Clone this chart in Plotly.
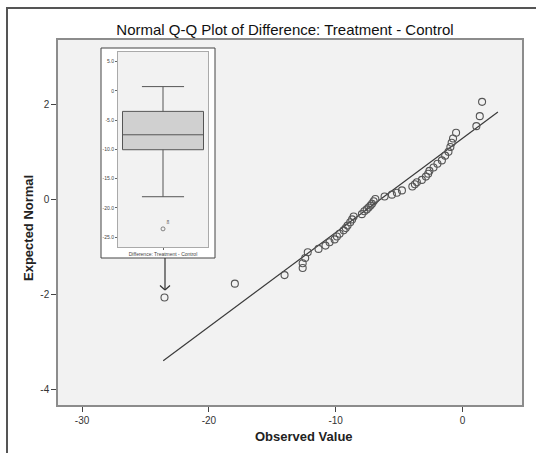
import plotly.graph_objects as go

# ---- data ----
observed = [-23.5, -17.95, -14.03, -12.6, -12.6, -12.4, -12.2, -11.35, -10.8, -10.48,
            -10.08, -9.9, -9.69, -9.37, -9.2, -9.06, -8.85, -8.7, -8.58, -7.93,
            -7.74, -7.55, -7.4, -7.25, -7.13, -7.0, -6.87, -6.14, -5.56, -5.17,
            -4.77, -3.95, -3.75, -3.59, -3.2, -2.88, -2.7, -2.6, -2.28, -1.97,
            -1.62, -1.36, -1.1, -0.95, -0.85, -0.74, -0.5, 1.1, 1.37, 1.55]
expected = [-2.06, -1.77, -1.59, -1.44, -1.34, -1.23, -1.11, -1.04, -0.97, -0.90,
            -0.84, -0.78, -0.72, -0.65, -0.60, -0.55, -0.48, -0.42, -0.36, -0.31,
            -0.25, -0.21, -0.17, -0.13, -0.09, -0.04, 0.01, 0.06, 0.10, 0.14,
            0.19, 0.27, 0.32, 0.36, 0.41, 0.48, 0.54, 0.60, 0.67, 0.75,
            0.82, 0.92, 1.00, 1.10, 1.19, 1.28, 1.40, 1.54, 1.75, 2.05]

line_mean = -6.48
line_sd = 5.05
line_x = [-23.6, 2.8]

x_ticks = [-30, -20, -10, 0]
x_ticklabels = ["-30", "-20", "-10", "0"]
y_ticks = [-4, -2, 0, 2]
y_ticklabels = ["-4", "-2", "0", "2"]

# inset boxplot summary
box_q1, box_median, box_q3 = -10.06, -7.5, -3.5
box_lower, box_upper = -18.1, 0.74
box_outlier = [-23.6]
box_outlier_label = "8"
inset_ticks = [5, 0, -5, -10, -15, -20, -25]
inset_ticklabels = ["5.0", "0", "-5.0", "-10.0", "-15.0", "-20.0", "-25.0"]
inset_category = "Difference: Treatment - Control"

title = "Normal Q-Q Plot of Difference: Treatment - Control"
x_title = "Observed Value"
y_title = "Expected Normal"

W, H = 536, 453
L, R, T, B = 58, 14, 40, 48
pw, ph = W - L - R, H - T - B

def px(x):
    return (x - L) / pw

def py(y):
    return (H - B - y) / ph

fig = go.Figure()

fig.add_trace(go.Scatter(
    x=line_x, y=[(v - line_mean) / line_sd for v in line_x],
    mode="lines", line=dict(color="#3a3a3a", width=1.2),
    showlegend=False, hoverinfo="skip"))

fig.add_trace(go.Scatter(
    x=observed, y=expected, mode="markers",
    marker=dict(symbol="circle-open", size=7, color="#555555", line=dict(width=1.1)),
    showlegend=False))

# inset box
fig.add_trace(go.Box(
    x=[inset_category], q1=[box_q1], median=[box_median], q3=[box_q3],
    lowerfence=[box_lower], upperfence=[box_upper],
    xaxis="x2", yaxis="y2", boxpoints=False,
    fillcolor="#d0d0d0", line=dict(color="#555555", width=1),
    width=0.68, whiskerwidth=0.52, showlegend=False))

fig.add_trace(go.Scatter(
    x=[inset_category] * len(box_outlier), y=box_outlier, mode="markers+text",
    text=[box_outlier_label], textposition="top right",
    textfont=dict(size=5, color="#555555"),
    marker=dict(symbol="circle-open", size=4, color="#666666", line=dict(width=0.8)),
    xaxis="x2", yaxis="y2", showlegend=False))

axis_common = dict(showgrid=False, zeroline=False, showline=True, mirror=True,
                   linecolor="#8c8c8c", linewidth=1.5, ticks="outside",
                   tickcolor="#444444", ticklen=5,
                   tickfont=dict(family="Liberation Sans, Arial", size=10, color="#333333"))

fig.update_layout(
    width=W, height=H,
    margin=dict(l=L, r=R, t=T, b=B),
    paper_bgcolor="white", plot_bgcolor="#f2f2f2",
    title=dict(text=title, x=285 / W, xanchor="center", y=1 - 30 / H, yanchor="middle",
               font=dict(family="Liberation Sans, Arial", size=15, color="#111111")),
    xaxis=dict(range=[-31.9, 4.7], tickvals=x_ticks, ticktext=x_ticklabels, **axis_common),
    yaxis=dict(range=[-4.32, 3.35], tickvals=y_ticks, ticktext=y_ticklabels, **axis_common),
    xaxis2=dict(domain=[px(118), px(208)], anchor="y2", showgrid=False, zeroline=False,
                showline=True, mirror=True, linecolor="#aaaaaa", linewidth=1,
                ticks="outside", ticklen=2, tickcolor="#666666",
                tickfont=dict(family="Liberation Sans, Arial", size=5, color="#444444")),
    yaxis2=dict(domain=[py(247), py(52)], anchor="x2", range=[-26.7, 6.66],
                tickvals=inset_ticks, ticktext=inset_ticklabels,
                showgrid=False, zeroline=False, showline=True, mirror=True,
                linecolor="#aaaaaa", linewidth=1, ticks="outside", ticklen=2,
                tickcolor="#666666",
                tickfont=dict(family="Liberation Sans, Arial", size=5, color="#444444")),
    annotations=[
        dict(text="<b>" + x_title + "</b>", xref="paper", yref="paper",
             x=px(304), y=py(436), xanchor="center", yanchor="middle", showarrow=False,
             font=dict(family="Liberation Sans, Arial", size=13, color="#222222")),
        dict(text="<b>" + y_title + "</b>", xref="paper", yref="paper", textangle=-90,
             x=px(28), y=py(228), xanchor="center", yanchor="middle", showarrow=False,
             font=dict(family="Liberation Sans, Arial", size=13, color="#222222")),
    ],
    shapes=[
        # outer chart frame
        dict(type="rect", xref="paper", yref="paper", x0=px(7), x1=px(540), y0=py(470), y1=py(8),
             line=dict(color="#555555", width=2), fillcolor="rgba(0,0,0,0)", layer="above"),
        # inset white frame
        dict(type="rect", xref="paper", yref="paper", x0=px(101), x1=px(215), y0=py(258), y1=py(48),
             line=dict(color="#444444", width=1), fillcolor="white", layer="below"),
        # inset plot background
        dict(type="rect", xref="paper", yref="paper", x0=px(118), x1=px(208), y0=py(247), y1=py(52),
             line=dict(color="#aaaaaa", width=1), fillcolor="#f0f0f0", layer="below"),
        # arrow
        dict(type="line", xref="paper", yref="paper", x0=px(165), x1=px(165), y0=py(258), y1=py(290),
             line=dict(color="#333333", width=1.2)),
        dict(type="line", xref="paper", yref="paper", x0=px(160), x1=px(165), y0=py(285.5), y1=py(290),
             line=dict(color="#333333", width=1.2)),
        dict(type="line", xref="paper", yref="paper", x0=px(170), x1=px(165), y0=py(285.5), y1=py(290),
             line=dict(color="#333333", width=1.2)),
    ],
)

fig.write_html("out.html", config={"displayModeBar": False},
               post_script="document.body.style.margin='0';document.body.style.padding='0';")
